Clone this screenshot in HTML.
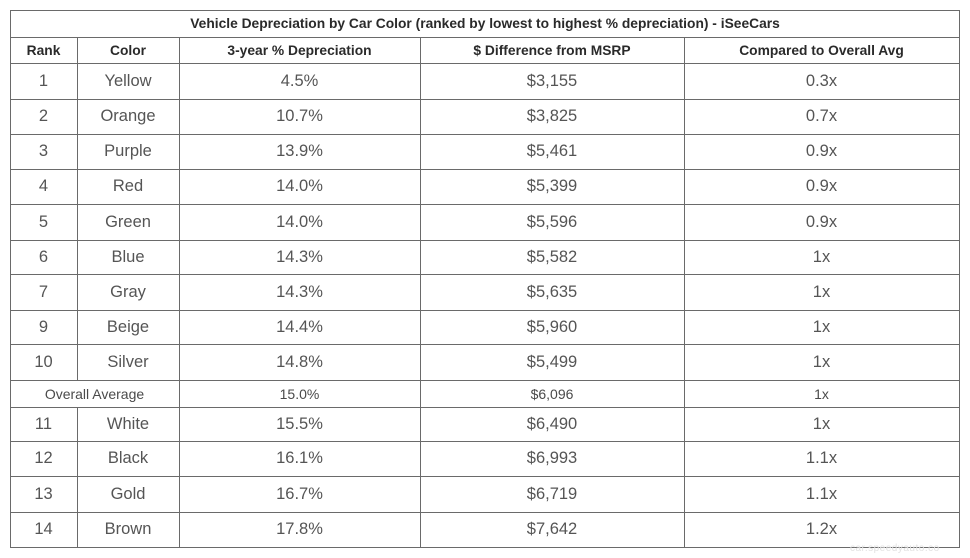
<!DOCTYPE html>
<html><head><meta charset="utf-8"><style>
html,body{margin:0;padding:0;background:#fff;}
body{width:970px;height:558px;position:relative;overflow:hidden;font-family:"Liberation Sans",Arial,sans-serif;}
.h{position:absolute;height:1px;background:#6a6a6a;}
.v{position:absolute;width:1px;background:#6a6a6a;}
.t{position:absolute;display:flex;align-items:center;justify-content:center;color:#555;font-size:16.5px;white-space:nowrap;}
.b{font-weight:bold;font-size:13.8px;color:#2a2a2a;}
.s{font-size:14px;color:#4a4a4a;}
.wm{position:absolute;left:850px;top:543px;font-size:10px;color:#e2e2e2;letter-spacing:0.5px;}
</style></head><body>
<div id="g"></div>
<script>
var ys=[10,37,63,99,134,169,204,240,274,310,344,380,407,441,476,512,547];
var xs=[10,77,179,420,684,959];
var rows=[
["1","Yellow","4.5%","$3,155","0.3x"],
["2","Orange","10.7%","$3,825","0.7x"],
["3","Purple","13.9%","$5,461","0.9x"],
["4","Red","14.0%","$5,399","0.9x"],
["5","Green","14.0%","$5,596","0.9x"],
["6","Blue","14.3%","$5,582","1x"],
["7","Gray","14.3%","$5,635","1x"],
["9","Beige","14.4%","$5,960","1x"],
["10","Silver","14.8%","$5,499","1x"],
null,
["11","White","15.5%","$6,490","1x"],
["12","Black","16.1%","$6,993","1.1x"],
["13","Gold","16.7%","$6,719","1.1x"],
["14","Brown","17.8%","$7,642","1.2x"]];
var h='';
function cell(x1,x2,y1,y2,txt,cls){h+='<div class="t '+(cls||'')+'" style="left:'+x1+'px;width:'+(x2-x1)+'px;top:'+y1+'px;height:'+(y2-y1)+'px">'+txt+'</div>';}
for(var i=0;i<ys.length;i++){h+='<div class="h" style="left:10px;width:950px;top:'+ys[i]+'px"></div>';}
h+='<div class="v" style="left:10px;top:10px;height:538px"></div>';
h+='<div class="v" style="left:959px;top:10px;height:538px"></div>';
for(var c=1;c<5;c++){
  var x=xs[c];
  if(c==1){
    h+='<div class="v" style="left:'+x+'px;top:37px;height:'+(380-37)+'px"></div>';
    h+='<div class="v" style="left:'+x+'px;top:407px;height:'+(548-407)+'px"></div>';
  } else {
    h+='<div class="v" style="left:'+x+'px;top:37px;height:'+(548-37)+'px"></div>';
  }
}
cell(10,960,10,37,'Vehicle Depreciation by Car Color (ranked by lowest to highest % depreciation) - iSeeCars','b');
var hd=['Rank','Color','3-year % Depreciation','$ Difference from MSRP','Compared to Overall Avg'];
for(var c=0;c<5;c++)cell(xs[c],xs[c+1],37,63,hd[c],'b');
for(var r=0;r<rows.length;r++){
  var y1=ys[r+2],y2=ys[r+3];
  if(rows[r]===null){
    cell(10,179,y1,y2,'Overall Average','s');
    cell(179,420,y1,y2,'15.0%','s');
    cell(420,684,y1,y2,'$6,096','s');
    cell(684,959,y1,y2,'1x','s');
  } else {
    for(var c=0;c<5;c++)cell(xs[c],xs[c+1],y1,y2,rows[r][c]);
  }
}
document.getElementById('g').innerHTML=h;
</script>
<div class="wm">car.speedyauto.co</div>
</body></html>
